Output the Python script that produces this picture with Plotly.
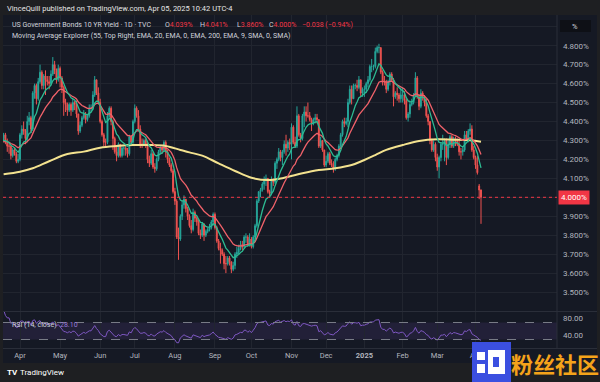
import pandas as pd
import plotly.graph_objects as go

W, H = 600, 382

# ---------------- data ----------------
holidays = ["2024-03-29", "2024-05-27", "2024-06-19", "2024-07-04", "2024-09-02",
            "2024-10-14", "2024-11-11", "2024-11-28", "2024-12-25", "2025-01-01",
            "2025-01-20", "2025-02-17"]
dates = [d for d in pd.bdate_range("2024-03-14", "2025-04-04")
         if d.strftime("%Y-%m-%d") not in holidays]

open_ = [
    4.19, 4.29, 4.31, 4.33, 4.29, 4.27, 4.27, 4.22, 4.25, 4.23, 4.19,
    4.20, 4.33, 4.36, 4.35, 4.31, 4.40, 4.42, 4.36, 4.55, 4.59, 4.52, 4.61, 4.66, 4.59, 4.64, 4.62, 4.61, 4.60, 4.65, 4.70, 4.67, 4.62,
    4.68, 4.63, 4.58, 4.50, 4.49, 4.46, 4.49, 4.46, 4.50, 4.49, 4.44, 4.35, 4.38, 4.42, 4.44, 4.41, 4.43, 4.47, 4.47, 4.54, 4.62, 4.55,
    4.50, 4.40, 4.33, 4.29, 4.29, 4.43, 4.47, 4.40, 4.31, 4.24, 4.22, 4.28, 4.22, 4.26, 4.26, 4.25, 4.23, 4.32, 4.29,
    4.40, 4.47, 4.43, 4.36, 4.28, 4.28, 4.30, 4.28, 4.20, 4.18, 4.23, 4.16, 4.15, 4.20, 4.24, 4.26, 4.25, 4.29, 4.24, 4.20, 4.17, 4.14,
    4.03, 3.98, 3.79, 3.78, 3.90, 3.96, 3.99, 3.94, 3.90, 3.85, 3.83, 3.92, 3.89, 3.87, 3.81, 3.80, 3.86, 3.80, 3.82, 3.83, 3.84, 3.87,
    3.91, 3.84, 3.77, 3.73, 3.72, 3.70, 3.65, 3.65, 3.68, 3.66, 3.62, 3.64, 3.70, 3.71, 3.73, 3.75, 3.74, 3.79, 3.79, 3.75,
    3.78, 3.74, 3.79, 3.85, 3.98, 4.03, 4.04, 4.07, 4.09, 4.10, 4.03, 4.02, 4.09, 4.08, 4.18, 4.20, 4.24, 4.21, 4.24, 4.28, 4.26, 4.29,
    4.28, 4.37, 4.29, 4.27, 4.43, 4.33, 4.31, 4.43, 4.45, 4.43, 4.43, 4.41, 4.39, 4.41, 4.42, 4.41, 4.27, 4.30, 4.25,
    4.17, 4.19, 4.23, 4.18, 4.17, 4.15, 4.20, 4.22, 4.27, 4.33, 4.40, 4.39, 4.40, 4.50, 4.57, 4.52, 4.59, 4.59, 4.58, 4.62, 4.55,
    4.57, 4.57, 4.60, 4.62, 4.69, 4.69, 4.69, 4.77, 4.79, 4.79, 4.66, 4.61, 4.61, 4.57, 4.61, 4.65, 4.62, 4.53, 4.55, 4.54, 4.52,
    4.54, 4.54, 4.51, 4.42, 4.44, 4.49, 4.50, 4.54, 4.63, 4.53, 4.48, 4.55, 4.53, 4.50, 4.43, 4.40, 4.30, 4.25, 4.28,
    4.21, 4.16, 4.21, 4.28, 4.28, 4.30, 4.21, 4.28, 4.32, 4.27, 4.31, 4.30, 4.28, 4.24, 4.24, 4.25, 4.33, 4.31, 4.35, 4.36, 4.25,
    4.21, 4.17, 4.06, 4.039,
]
high = [
    4.30, 4.33, 4.34, 4.34, 4.31, 4.29, 4.27, 4.26, 4.26, 4.24, 4.23,
    4.34, 4.38, 4.40, 4.36, 4.43, 4.45, 4.43, 4.56, 4.60, 4.60, 4.63, 4.70, 4.67, 4.65, 4.67, 4.64, 4.64, 4.67, 4.74, 4.72, 4.68, 4.70,
    4.69, 4.64, 4.59, 4.52, 4.50, 4.50, 4.50, 4.52, 4.51, 4.51, 4.44, 4.40, 4.43, 4.46, 4.45, 4.44, 4.49, 4.49, 4.56, 4.64, 4.62, 4.58,
    4.52, 4.41, 4.34, 4.31, 4.45, 4.48, 4.48, 4.41, 4.32, 4.27, 4.29, 4.28, 4.27, 4.27, 4.27, 4.26, 4.33, 4.32, 4.41,
    4.49, 4.48, 4.46, 4.38, 4.31, 4.31, 4.31, 4.29, 4.22, 4.25, 4.24, 4.18, 4.21, 4.25, 4.27, 4.27, 4.30, 4.30, 4.25, 4.21, 4.18, 4.15,
    4.05, 3.99, 3.84, 3.91, 3.98, 4.01, 3.99, 3.95, 3.91, 3.88, 3.94, 3.93, 3.90, 3.88, 3.83, 3.87, 3.86, 3.83, 3.84, 3.86, 3.88, 3.92,
    3.92, 3.85, 3.78, 3.76, 3.73, 3.71, 3.69, 3.69, 3.69, 3.66, 3.66, 3.71, 3.74, 3.75, 3.77, 3.77, 3.80, 3.81, 3.80, 3.81,
    3.79, 3.80, 3.86, 3.99, 4.03, 4.05, 4.08, 4.11, 4.12, 4.10, 4.04, 4.11, 4.10, 4.19, 4.21, 4.26, 4.25, 4.25, 4.30, 4.33, 4.30, 4.31,
    4.39, 4.38, 4.32, 4.48, 4.44, 4.34, 4.44, 4.48, 4.48, 4.50, 4.45, 4.42, 4.42, 4.44, 4.44, 4.41, 4.32, 4.30, 4.25,
    4.22, 4.24, 4.24, 4.20, 4.19, 4.21, 4.23, 4.28, 4.34, 4.41, 4.42, 4.42, 4.52, 4.59, 4.59, 4.60, 4.60, 4.62, 4.64, 4.62, 4.58,
    4.59, 4.61, 4.64, 4.70, 4.73, 4.70, 4.79, 4.80, 4.81, 4.79, 4.67, 4.64, 4.62, 4.62, 4.66, 4.66, 4.63, 4.56, 4.58, 4.55, 4.58,
    4.58, 4.56, 4.52, 4.45, 4.51, 4.52, 4.55, 4.66, 4.64, 4.54, 4.57, 4.56, 4.54, 4.52, 4.44, 4.40, 4.31, 4.30, 4.29,
    4.23, 4.22, 4.29, 4.33, 4.31, 4.31, 4.30, 4.33, 4.33, 4.32, 4.32, 4.31, 4.30, 4.26, 4.27, 4.35, 4.35, 4.36, 4.39, 4.38, 4.27,
    4.22, 4.22, 4.07, 4.041,
]
low = [
    4.18, 4.27, 4.30, 4.28, 4.24, 4.23, 4.20, 4.21, 4.22, 4.18, 4.18,
    4.19, 4.31, 4.33, 4.28, 4.29, 4.38, 4.34, 4.35, 4.52, 4.49, 4.51, 4.60, 4.57, 4.57, 4.54, 4.59, 4.57, 4.59, 4.64, 4.65, 4.60, 4.61,
    4.58, 4.55, 4.43, 4.45, 4.43, 4.45, 4.43, 4.45, 4.46, 4.42, 4.33, 4.34, 4.37, 4.41, 4.39, 4.40, 4.42, 4.45, 4.46, 4.53, 4.54, 4.49,
    4.39, 4.32, 4.27, 4.26, 4.28, 4.42, 4.38, 4.25, 4.23, 4.19, 4.21, 4.21, 4.21, 4.22, 4.22, 4.21, 4.22, 4.27, 4.27,
    4.39, 4.42, 4.35, 4.26, 4.26, 4.27, 4.26, 4.18, 4.16, 4.17, 4.15, 4.13, 4.14, 4.19, 4.23, 4.23, 4.24, 4.21, 4.18, 4.16, 4.13, 4.02,
    3.96, 3.78, 3.67, 3.77, 3.88, 3.94, 3.92, 3.88, 3.84, 3.81, 3.82, 3.87, 3.85, 3.80, 3.78, 3.79, 3.77, 3.79, 3.81, 3.82, 3.83, 3.85,
    3.83, 3.76, 3.72, 3.65, 3.69, 3.62, 3.60, 3.64, 3.64, 3.60, 3.61, 3.62, 3.68, 3.70, 3.72, 3.72, 3.73, 3.76, 3.74, 3.74,
    3.73, 3.73, 3.78, 3.84, 3.97, 4.00, 4.03, 4.04, 4.06, 4.02, 4.00, 4.01, 4.06, 4.07, 4.15, 4.19, 4.19, 4.17, 4.23, 4.22, 4.24, 4.25,
    4.20, 4.28, 4.26, 4.26, 4.32, 4.29, 4.30, 4.37, 4.40, 4.42, 4.40, 4.35, 4.38, 4.39, 4.39, 4.26, 4.26, 4.24, 4.16,
    4.16, 4.18, 4.17, 4.16, 4.13, 4.14, 4.19, 4.21, 4.26, 4.32, 4.37, 4.38, 4.37, 4.49, 4.49, 4.52, 4.57, 4.56, 4.57, 4.53, 4.53,
    4.53, 4.55, 4.58, 4.61, 4.66, 4.67, 4.68, 4.76, 4.76, 4.65, 4.59, 4.59, 4.55, 4.56, 4.59, 4.61, 4.48, 4.52, 4.51, 4.50, 4.50,
    4.50, 4.49, 4.41, 4.40, 4.42, 4.48, 4.49, 4.53, 4.52, 4.46, 4.47, 4.51, 4.48, 4.42, 4.38, 4.28, 4.24, 4.24, 4.19,
    4.14, 4.10, 4.19, 4.25, 4.19, 4.17, 4.20, 4.26, 4.26, 4.26, 4.27, 4.27, 4.22, 4.20, 4.22, 4.24, 4.30, 4.29, 4.33, 4.24, 4.20,
    4.15, 4.12, 3.99, 3.860,
]
close = [
    4.29, 4.31, 4.33, 4.29, 4.27, 4.27, 4.22, 4.25, 4.23, 4.19, 4.20,
    4.33, 4.36, 4.35, 4.31, 4.40, 4.42, 4.36, 4.55, 4.59, 4.52, 4.61, 4.66, 4.59, 4.64, 4.62, 4.61, 4.60, 4.65, 4.70, 4.67, 4.62, 4.68,
    4.63, 4.58, 4.50, 4.49, 4.46, 4.49, 4.46, 4.50, 4.49, 4.44, 4.35, 4.38, 4.42, 4.44, 4.41, 4.43, 4.47, 4.47, 4.54, 4.62, 4.55, 4.50,
    4.40, 4.33, 4.29, 4.29, 4.43, 4.47, 4.40, 4.31, 4.24, 4.22, 4.28, 4.22, 4.26, 4.26, 4.25, 4.23, 4.32, 4.29, 4.40,
    4.47, 4.43, 4.36, 4.28, 4.28, 4.30, 4.28, 4.20, 4.18, 4.23, 4.16, 4.15, 4.20, 4.24, 4.26, 4.25, 4.29, 4.24, 4.20, 4.17, 4.14, 4.03,
    3.98, 3.79, 3.78, 3.90, 3.96, 3.99, 3.94, 3.90, 3.85, 3.83, 3.92, 3.89, 3.87, 3.81, 3.80, 3.86, 3.80, 3.82, 3.83, 3.84, 3.87, 3.91,
    3.84, 3.77, 3.73, 3.72, 3.70, 3.65, 3.65, 3.68, 3.66, 3.62, 3.64, 3.70, 3.71, 3.73, 3.75, 3.74, 3.79, 3.79, 3.75, 3.78,
    3.74, 3.79, 3.85, 3.98, 4.03, 4.04, 4.07, 4.09, 4.10, 4.03, 4.02, 4.09, 4.08, 4.18, 4.20, 4.24, 4.21, 4.24, 4.28, 4.26, 4.29, 4.28,
    4.37, 4.29, 4.27, 4.43, 4.33, 4.31, 4.43, 4.45, 4.43, 4.43, 4.41, 4.39, 4.41, 4.42, 4.41, 4.27, 4.30, 4.25, 4.17,
    4.19, 4.23, 4.18, 4.17, 4.15, 4.20, 4.22, 4.27, 4.33, 4.40, 4.39, 4.40, 4.50, 4.57, 4.52, 4.59, 4.59, 4.58, 4.62, 4.55, 4.57,
    4.57, 4.60, 4.62, 4.69, 4.69, 4.69, 4.77, 4.79, 4.79, 4.66, 4.61, 4.61, 4.57, 4.61, 4.65, 4.62, 4.53, 4.55, 4.54, 4.52, 4.54,
    4.54, 4.51, 4.42, 4.44, 4.49, 4.50, 4.54, 4.63, 4.53, 4.48, 4.55, 4.53, 4.50, 4.43, 4.40, 4.30, 4.25, 4.28, 4.21,
    4.16, 4.21, 4.28, 4.28, 4.30, 4.21, 4.28, 4.32, 4.27, 4.31, 4.30, 4.28, 4.24, 4.24, 4.25, 4.33, 4.31, 4.35, 4.36, 4.25, 4.21,
    4.17, 4.13, 4.038, 4.000,
]

# EMA 200 (yellow) at a set of dates
ema200_dates = ["2024-03-18", "2024-04-01", "2024-04-10", "2024-04-23", "2024-05-07", "2024-05-20",
                "2024-06-03", "2024-06-14", "2024-06-28", "2024-07-12", "2024-07-25", "2024-08-06",
                "2024-08-13", "2024-08-22", "2024-09-05", "2024-09-18", "2024-10-01", "2024-10-15",
                "2024-10-28", "2024-11-12", "2024-11-25", "2024-12-09", "2024-12-20", "2025-01-02",
                "2025-01-10", "2025-01-21", "2025-02-03", "2025-02-14", "2025-03-03", "2025-03-14",
                "2025-03-27", "2025-04-04"]
ema200_vals = [4.122, 4.135, 4.153, 4.190, 4.228, 4.241,
               4.262, 4.271, 4.276, 4.276, 4.271, 4.250,
               4.237, 4.220, 4.179, 4.139, 4.103, 4.091,
               4.103, 4.127, 4.144, 4.153, 4.170, 4.197,
               4.223, 4.250, 4.276, 4.297, 4.306, 4.304,
               4.301, 4.293]

month_labels = ["Apr", "May", "Jun", "Jul", "Aug", "Sep", "Oct", "Nov", "Dec", "<b>2025</b>", "Feb", "Mar", "Apr"]
price_ticks = [3.5, 3.6, 3.7, 3.8, 3.9, 4.0, 4.1, 4.2, 4.3, 4.4, 4.5, 4.6, 4.7, 4.8, 4.9]
rsi_ticks = [40, 80]
rsi_bands = [30, 70]
rsi_last_label = "28.10"

assert len(open_) == len(high) == len(low) == len(close) == len(dates), (len(open_), len(high), len(low), len(close), len(dates))

n = len(close)
xs = list(range(n))
date_idx = {d.strftime("%Y-%m-%d"): i for i, d in enumerate(dates)}
ema_x = [date_idx[d] for d in ema200_dates]

# month starts
month_idx = []
prev = None
for i, d in enumerate(dates):
    key = (d.year, d.month)
    if key != prev:
        if i > 0:
            month_idx.append(i)
        prev = key

cs = pd.Series(close)
ema20 = cs.ewm(span=20, adjust=False).mean()
ema9 = cs.ewm(span=9, adjust=False).mean()
delta = cs.diff()
gain = delta.clip(lower=0)
loss = -delta.clip(upper=0)
ag = gain.ewm(alpha=1 / 14, adjust=False).mean()
al = loss.ewm(alpha=1 / 14, adjust=False).mean()
rsi = 100 - 100 / (1 + ag / al)

# ---------------- geometry ----------------
def px(xp):
    return xp / W

def py(yp):
    return 1 - yp / H

i_a, i_b = month_idx[0], n - 1
s = (481 - 20) / (i_b - i_a)
x_left = i_a - (20 - 3) / s
x_right = i_b + (557 - 481) / s

p0_px, p_per = 197.3, 189.5  # 4.0 at 197.3px, 189.5 px per 1.0
y_top = 4.0 + (p0_px - 15) / p_per
y_bot = 4.0 - (311 - p0_px) / p_per
r0_px, r_per = 352.25, 0.425
r_top = (r0_px - 312) / r_per
r_bot = (r0_px - 348) / r_per

BG = "#151924"
FRAME = "#1e1f22"
GRID = "#21252f"
TXT = "#b2b5be"
UP, DN = "#26a69a", "#ef5350"
FONT = "Roboto"

fig = go.Figure()
fig.add_trace(go.Candlestick(
    x=xs, open=open_, high=high, low=low, close=close,
    increasing=dict(line=dict(color=UP, width=1), fillcolor=UP),
    decreasing=dict(line=dict(color=DN, width=1), fillcolor=DN),
    hoverinfo="skip", showlegend=False, xaxis="x", yaxis="y"))
fig.add_trace(go.Scatter(x=ema_x, y=ema200_vals, mode="lines", line=dict(color="#f3e28f", width=2, shape="spline"),
                         showlegend=False, hoverinfo="skip", xaxis="x", yaxis="y"))
fig.add_trace(go.Scatter(x=xs, y=ema20, mode="lines", line=dict(color="#f0626a", width=1.3),
                         showlegend=False, hoverinfo="skip", xaxis="x", yaxis="y"))
fig.add_trace(go.Scatter(x=xs, y=ema9, mode="lines", line=dict(color="#2dbb92", width=1.3),
                         showlegend=False, hoverinfo="skip", xaxis="x", yaxis="y"))
fig.add_trace(go.Scatter(x=xs, y=rsi, mode="lines", line=dict(color="#7e57c2", width=1),
                         showlegend=False, hoverinfo="skip", xaxis="x2", yaxis="y2"))

shapes = [
    # chart background
    dict(type="rect", xref="paper", yref="paper", x0=px(3), x1=px(597), y0=py(363), y1=py(15),
         fillcolor=BG, line=dict(width=0), layer="below"),
    # RSI band fill
    dict(type="rect", xref="paper", yref="y2", x0=px(3), x1=px(557), y0=rsi_bands[0], y1=rsi_bands[1],
         fillcolor="rgba(126,87,194,0.13)", line=dict(width=0), layer="below"),
    # pane separators
    dict(type="line", xref="paper", yref="paper", x0=px(557), x1=px(557), y0=py(348), y1=py(15),
         line=dict(color="#2a2e39", width=1)),
    dict(type="line", xref="paper", yref="paper", x0=px(3), x1=px(597), y0=py(311.5), y1=py(311.5),
         line=dict(color="#2a2e39", width=1)),
    dict(type="line", xref="paper", yref="paper", x0=px(3), x1=px(597), y0=py(348.5), y1=py(348.5),
         line=dict(color="#2a2e39", width=1)),
    # current price line
    dict(type="line", xref="paper", yref="y", x0=px(3), x1=px(557), y0=close[-1], y1=close[-1],
         line=dict(color="#f23645", width=1, dash="dot")),
    # % box
    dict(type="rect", xref="paper", yref="paper", x0=px(560), x1=px(591), y0=py(32), y1=py(20),
         fillcolor="#0e1016", line=dict(width=0)),
    # watermark icon
    dict(type="rect", xref="paper", yref="paper", x0=px(472), x1=px(511), y0=py(382), y1=py(342),
         fillcolor="#3b4fe0", line=dict(width=0)),
    dict(type="rect", xref="paper", yref="paper", x0=px(477), x1=px(485), y0=py(360), y1=py(352),
         fillcolor="white", line=dict(width=0)),
    dict(type="rect", xref="paper", yref="paper", x0=px(477), x1=px(485), y0=py(373), y1=py(364),
         fillcolor="white", line=dict(width=0)),
    dict(type="rect", xref="paper", yref="paper", x0=px(488), x1=px(505), y0=py(374), y1=py(350),
         fillcolor="white", line=dict(width=0)),
    dict(type="rect", xref="paper", yref="paper", x0=px(493), x1=px(499), y0=py(367), y1=py(357),
         fillcolor="#3b4fe0", line=dict(width=0)),
]
for b in rsi_bands:
    shapes.append(dict(type="line", xref="paper", yref="y2", x0=px(3), x1=px(557), y0=b, y1=b,
                       line=dict(color="#787b86", width=1, dash="dash")))


def txt(xp, yp, s, color="#d1d4dc", size=7, anchor="left", family=FONT, **kw):
    return dict(x=px(xp), y=py(yp), xref="paper", yref="paper", text=s, showarrow=False,
                xanchor=anchor, yanchor="middle", font=dict(family=family, size=size, color=color), **kw)

RED = "#f23645"
chg = close[-1] - close[-2]
pct = chg / close[-2] * 100
annotations = [
    txt(5, 8, "VinceQuill published on TradingView.com, Apr 05, 2025 10:42 UTC-4", "#e6e6e6", 7.5),
    txt(10, 25, "US Government Bonds 10 YR Yield · 1D · TVC", "#d1d4dc", 7),
    txt(163, 25, f"O<span style='color:{RED}'>{open_[-1]:.3f}%</span>", "#d1d4dc", 7),
    txt(198, 25, f"H<span style='color:{RED}'>{high[-1]:.3f}%</span>", "#d1d4dc", 7),
    txt(235, 25, f"L<span style='color:{RED}'>{low[-1]:.3f}%</span>", "#d1d4dc", 7),
    txt(267, 25, f"C<span style='color:{RED}'>{close[-1]:.3f}%</span>", "#d1d4dc", 7),
    txt(300, 25, f"{chg:+.3f} ({pct:+.2f}%)".replace("-", "−"), RED, 7),
    txt(10, 36, "Moving Average Explorer (55, Top Right, EMA, 20, EMA, 0, EMA, 200, EMA, 9, SMA, 0, SMA)", "#d1d4dc", 7),
    txt(575, 26, "%", "#d1d4dc", 7.5, anchor="center"),
    dict(x=px(558), y=close[-1], xref="paper", yref="y", text=f"{close[-1]:.3f}%", showarrow=False,
         xanchor="left", yanchor="middle", bgcolor="#f23645", borderpad=2,
         font=dict(family=FONT, size=8, color="white")),
    txt(10, 325, "RSI (14, close)", "#d1d4dc", 7),
    txt(58, 325, rsi_last_label, "#9a7bd6", 7),
    txt(5, 372, "<b>TV</b>", "#ffffff", 8),
    txt(18, 372, "TradingView", "#ffffff", 8),
    txt(555, 363, "<b>粉丝社区</b>", "#f5a31a", 22, anchor="center", family="Noto Sans CJK SC"),
]

axis_common = dict(showline=False, zeroline=False, gridcolor=GRID, gridwidth=1)
fig.update_layout(
    width=W, height=H, margin=dict(l=0, r=0, t=0, b=0),
    paper_bgcolor=FRAME, plot_bgcolor="rgba(0,0,0,0)",
    showlegend=False, shapes=shapes, annotations=annotations,
    xaxis=dict(domain=[px(3), px(557)], range=[x_left, x_right], tickvals=month_idx,
               ticktext=month_labels, showticklabels=False, rangeslider=dict(visible=False),
               anchor="y", **axis_common),
    yaxis=dict(domain=[py(311), py(15)], range=[y_bot, y_top], side="right", anchor="x",
               tickvals=price_ticks,
               ticktext=["" if (v > 4.85 or abs(v - close[-1]) < 0.05) else f"{v:.3f}%" for v in price_ticks],
               tickfont=dict(family=FONT, size=8, color=TXT), ticklabelstandoff=5, **axis_common),
    xaxis2=dict(domain=[px(3), px(557)], range=[x_left, x_right], tickvals=month_idx,
                ticktext=month_labels, tickfont=dict(family=FONT, size=7.5, color=TXT),
                anchor="y2", ticklabelstandoff=1, **axis_common),
    yaxis2=dict(domain=[py(348), py(312)], range=[r_bot, r_top], side="right", anchor="x2",
                tickvals=rsi_ticks, ticktext=[f"{v:.2f}" for v in rsi_ticks],
                tickfont=dict(family=FONT, size=8, color=TXT), ticklabelstandoff=5,
                showgrid=False, showline=False, zeroline=False),
)

fig.write_html("out.html", config={"displayModeBar": False},
               post_script="document.body.style.margin='0';document.body.style.overflow='hidden';")
